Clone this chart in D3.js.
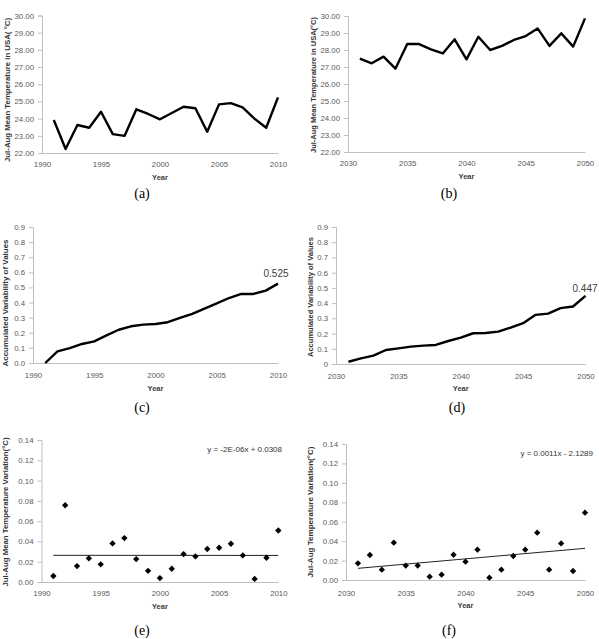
<!DOCTYPE html>
<html>
<head>
<meta charset="utf-8">
<script src="https://cdn.jsdelivr.net/npm/d3@7"></script>
<style>
  body { margin: 0; background: #fff; }
  svg text { font-family: "Liberation Sans", Arial, sans-serif; }
</style>
</head>
<body>
<div id="container"></div>
<script>
// --- data ---
const yearsPast = d3.range(1991, 2011)
const yearsFuture = d3.range(2031, 2051)

const tempPast = [23.92, 22.23, 23.63, 23.47, 24.40, 23.10, 23.00, 24.54, 24.27, 23.96,
  24.33, 24.69, 24.60, 23.24, 24.83, 24.90, 24.65, 24.00, 23.47, 25.24]
const tempFuture = [27.49, 27.22, 27.61, 26.90, 28.35, 28.35, 28.04, 27.80, 28.63, 27.45,
  28.78, 28.00, 28.24, 28.59, 28.82, 29.27, 28.24, 28.98, 28.20, 29.86]

const accPast = [0.000, 0.077, 0.099, 0.126, 0.143, 0.183, 0.220, 0.243, 0.254, 0.258,
  0.270, 0.298, 0.325, 0.360, 0.395, 0.430, 0.457, 0.457, 0.479, 0.525]
const accFuture = [0.015, 0.037, 0.055, 0.092, 0.103, 0.114, 0.121, 0.125, 0.151, 0.173,
  0.202, 0.204, 0.213, 0.239, 0.268, 0.323, 0.331, 0.367, 0.378, 0.447]

const varPast = [0.0059, 0.0757, 0.0157, 0.0233, 0.0174, 0.0380, 0.0433, 0.0226, 0.0110, 0.0039,
  0.0131, 0.0275, 0.0252, 0.0325, 0.0338, 0.0377, 0.0262, 0.0030, 0.0239, 0.0508]
const varFuture = [0.0172, 0.0257, 0.0106, 0.0384, 0.0148, 0.0148, 0.0034, 0.0055, 0.0260, 0.0189,
  0.0312, 0.0024, 0.0106, 0.0247, 0.0312, 0.0487, 0.0106, 0.0377, 0.0093, 0.0693]

// trend line end points (first and last year)
const trendPast = [0.0263, 0.0262]
const trendFuture = [0.0120, 0.0326]

const tempTicks = d3.range(22, 31, 1)
const accTicks = d3.range(0, 0.91, 0.1)
const varTicks = d3.range(0, 0.141, 0.02)
const xTicksPast = [1990, 1995, 2000, 2005, 2010]
const xTicksFuture = [2030, 2035, 2040, 2045, 2050]

const titles = {
  a: "Jul-Aug Mean Temperature in  USA( °C)",
  b: "Jul-Aug Mean Temperature in USA(°C)",
  c: "Accumulated Variability of Values",
  d: "Accumulated Variability of Values",
  e: "Jul-Aug Mean Temperature Variation(°C)",
  f: "Jul-Aug Temperature Variation(°C)"
}

// --- layout ---
const width = 599, height = 639
const svg = d3.create("svg").attr("width", width).attr("height", height)
container.append(svg.node())

const f2 = d => d.toFixed(2)
const f1 = d => d.toFixed(1)
const f1z = d => d === 0 ? "0" : d.toFixed(1)

const panels = [
  {id: "a", years: yearsPast, values: tempPast, xTicks: xTicksPast, yTicks: tempTicks, yFmt: f2,
    xr: [42, 278], yr: [153, 15.5], xdom: [1990, 2010], ydom: [22, 30], kind: "line",
    titleX: 7, titleY: 90, titleLen: 144, labY: 164, yearY: 177, cap: [142, 193]},
  {id: "b", years: yearsFuture, values: tempFuture, xTicks: xTicksFuture, yTicks: tempTicks, yFmt: f2,
    xr: [348, 585], yr: [152, 16], xdom: [2030, 2050], ydom: [22, 30], kind: "line",
    titleX: 313, titleY: 85, titleLen: 136, labY: 163, yearY: 176, cap: [449, 193]},
  {id: "c", years: yearsPast, values: accPast, xTicks: xTicksPast, yTicks: accTicks, yFmt: f1,
    xr: [33, 278], yr: [363, 227], xdom: [1990, 2010], ydom: [0, 0.9], kind: "line",
    titleX: 5, titleY: 303, titleLen: 127, labY: 375, yearY: 388, cap: [142, 407], note: ["0.525", 276, 273.5]},
  {id: "d", years: yearsFuture, values: accFuture, xTicks: xTicksFuture, yTicks: accTicks, yFmt: f1z,
    xr: [336, 585.5], yr: [364, 227], xdom: [2030, 2050], ydom: [0, 0.9], kind: "line",
    titleX: 310, titleY: 297, titleLen: 120, labY: 376, yearY: 388, cap: [457, 407], note: ["0.447", 585, 288.5]},
  {id: "e", years: yearsPast, values: varPast, xTicks: xTicksPast, yTicks: varTicks, yFmt: f2,
    xr: [41.5, 278.3], yr: [582, 440], xdom: [1990, 2010], ydom: [0, 0.14], kind: "scatter",
    trend: trendPast, eq: ["y = -2E-06x + 0.0308", 282, 449.5],
    titleX: 5, titleY: 512, titleLen: 149, labY: 593, yearY: 606, cap: [142, 630]},
  {id: "f", years: yearsFuture, values: varFuture, xTicks: xTicksFuture, yTicks: varTicks, yFmt: f2,
    xr: [346, 585], yr: [580, 444], xdom: [2030, 2050], ydom: [0, 0.14], kind: "scatter",
    trend: trendFuture, eq: ["y = 0.0011x - 2.1289", 593, 453.5],
    titleX: 310, titleY: 512, titleLen: 131, labY: 593, yearY: 605, cap: [449, 630]}
]

const axisGrey = "#bfbfbf"
const tickText = "#595959"

panels.forEach(p => {
  const g = svg.append("g").attr("class", "panel-" + p.id)
  const x = d3.scaleLinear().domain(p.xdom).range(p.xr)
  const y = d3.scaleLinear().domain(p.ydom).range(p.yr)

  // y axis: line + outside ticks
  const yAxis = d3.axisLeft(y).tickValues(p.yTicks).tickSize(4).tickPadding(4).tickFormat(p.yFmt)
  const ya = g.append("g").attr("transform", `translate(${p.xr[0]},0)`).call(yAxis)
  ya.select(".domain").attr("stroke", axisGrey)
  ya.selectAll(".tick line").attr("stroke", axisGrey)
  ya.selectAll(".tick text").attr("fill", tickText).style("font-size", "7.8px")
    .attr("font-family", null)

  // x axis
  const xa = g.append("g").attr("transform", `translate(0,${p.yr[0]})`)
    .call(d3.axisBottom(x).tickValues(p.xTicks).tickSize(0).tickFormat(d3.format("d")))
  xa.select(".domain").attr("stroke", axisGrey)
  xa.selectAll(".tick text").attr("fill", tickText).style("font-size", "7.8px")
    .attr("font-family", null).attr("dy", null).attr("y", p.labY - p.yr[0])
    .attr("dominant-baseline", "central")

  // axis titles
  g.append("text")
    .attr("x", (p.xr[0] + p.xr[1]) / 2)
    .attr("y", p.yearY)
    .attr("text-anchor", "middle").attr("dominant-baseline", "central")
    .style("font-size", "7.5px").style("font-weight", "bold").attr("fill", "#404040")
    .text("Year")

  g.append("text")
    .attr("transform", `translate(${p.titleX},${p.titleY}) rotate(-90)`)
    .attr("text-anchor", "middle").attr("dominant-baseline", "central")
    .attr("textLength", p.titleLen).attr("lengthAdjust", "spacingAndGlyphs")
    .style("font-size", "7.5px").style("font-weight", "bold").attr("fill", "#333")
    .text(titles[p.id])

  const pts = p.years.map((yr, i) => [yr, p.values[i]])

  if (p.kind === "line") {
    g.append("path")
      .datum(pts)
      .attr("fill", "none")
      .attr("stroke", "#000")
      .attr("stroke-width", 2.4)
      .attr("stroke-linejoin", "round")
      .attr("d", d3.line().x(d => x(d[0])).y(d => y(d[1])))
  } else {
    const first = p.years[0], last = p.years[p.years.length - 1]
    g.append("path")
      .datum([[first, p.trend[0]], [last, p.trend[1]]])
      .attr("fill", "none").attr("stroke", "#222").attr("stroke-width", 1)
      .attr("d", d3.line().x(d => x(d[0])).y(d => y(d[1])))
    g.selectAll(".pt")
      .data(pts)
      .join("path")
      .attr("class", "pt")
      .attr("d", d3.symbol(d3.symbolSquare, 20))
      .attr("transform", d => `translate(${x(d[0])},${y(d[1])}) rotate(45)`)
      .attr("fill", "#000")
  }

  if (p.note) {
    g.append("text")
      .attr("x", p.note[1]).attr("y", p.note[2])
      .attr("text-anchor", "middle").attr("dominant-baseline", "central")
      .style("font-size", "10px").attr("fill", "#404040")
      .text(p.note[0])
  }
  if (p.eq) {
    g.append("text")
      .attr("x", p.eq[1]).attr("y", p.eq[2])
      .attr("text-anchor", "end").attr("dominant-baseline", "central")
      .style("font-size", "8px").attr("fill", "#333")
      .text(p.eq[0])
  }

  // caption
  g.append("text")
    .attr("x", p.cap[0]).attr("y", p.cap[1])
    .attr("text-anchor", "middle").attr("dominant-baseline", "central")
    .style("font-family", "'Liberation Serif', 'Times New Roman', serif")
    .style("font-size", "14px").attr("fill", "#000")
    .text("(" + p.id + ")")
})
</script>
</body>
</html>
